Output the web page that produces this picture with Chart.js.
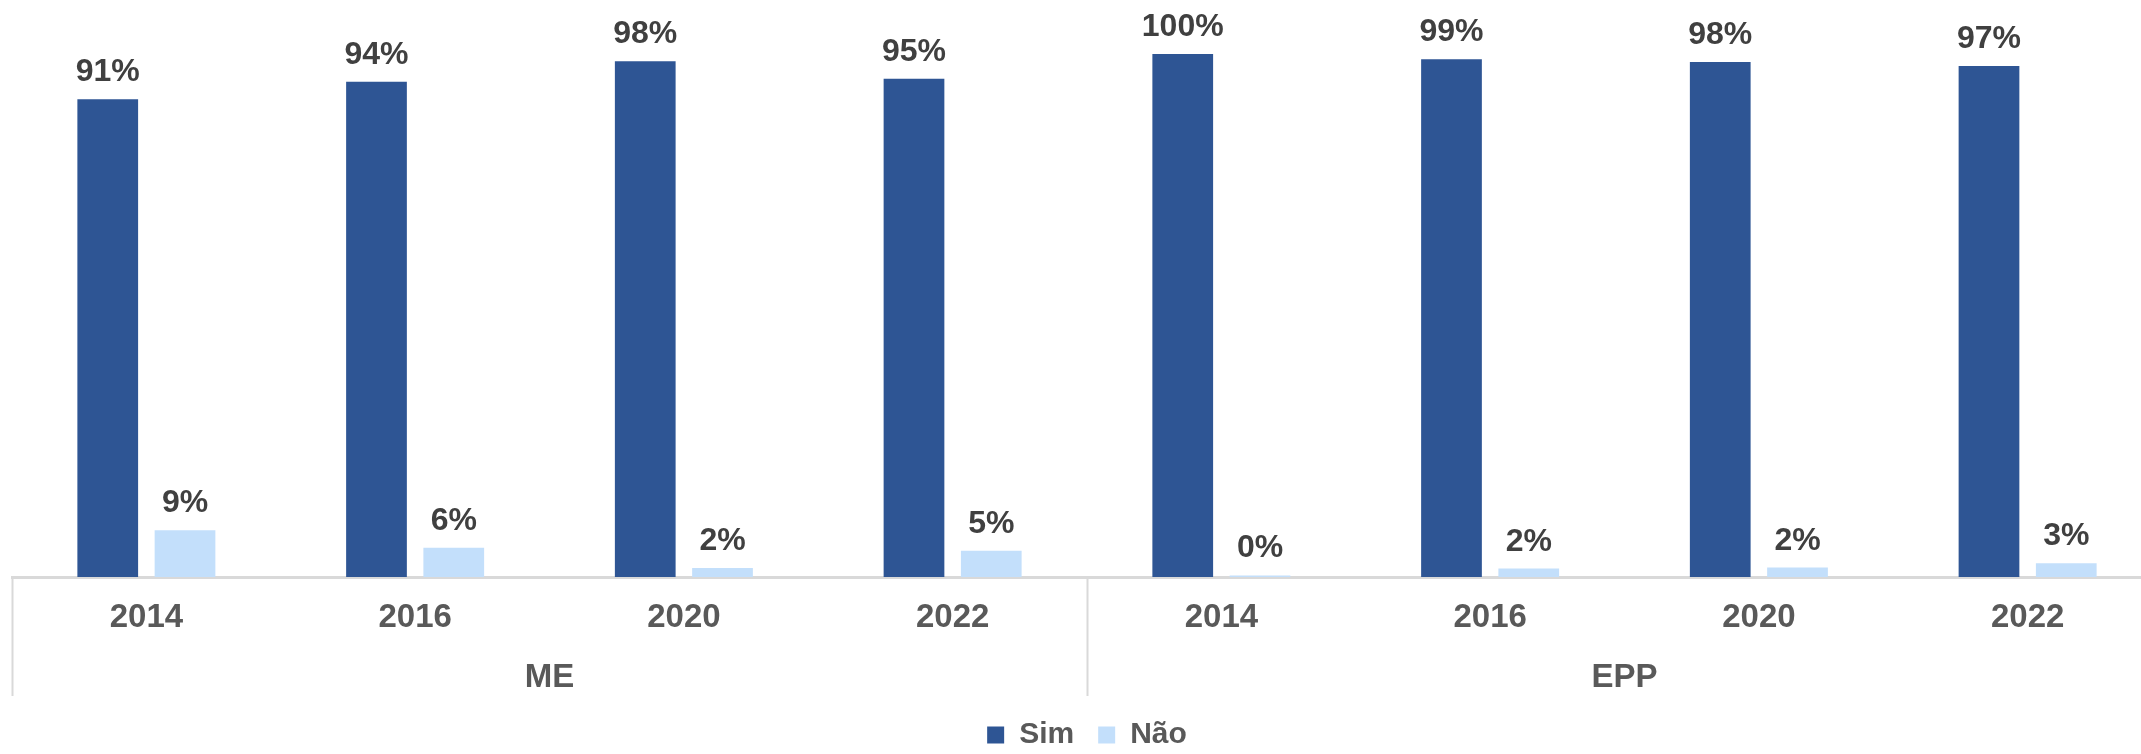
<!DOCTYPE html>
<html>
<head>
<meta charset="utf-8">
<script src="https://cdn.jsdelivr.net/npm/chart.js@4/dist/chart.umd.min.js"></script>
<style>
    html, body { margin: 0; padding: 0; background: #fff; overflow: hidden; }
    #wrap { width: 2174px; height: 760px; }
</style>
</head>
<body>
<div id="wrap"><canvas id="grafico" width="2174" height="760"></canvas></div>
<script>
/* ============================================================
   DATOS
============================================================ */
const anos = ["2014", "2016", "2020", "2022", "2014", "2016", "2020", "2022"];
const grupos = ["ME", "EPP"];
const valoresSim = [91.1, 94.4, 98.3, 95.0, 99.7, 98.7, 98.2, 97.4];
const valoresNao = [8.9, 5.6, 1.7, 5.0, 0.3, 1.6, 1.8, 2.6];

const FUENTE = "'Liberation Sans', Arial, sans-serif";

/* ============================================================
   PLUGIN: etiquetas encima de las barras
============================================================ */
const etiquetasBarras = {
    id: "etiquetasBarras",
    afterDatasetsDraw(chart) {
        const ctx = chart.ctx;
        ctx.save();
        ctx.font = "bold 32px " + FUENTE;
        ctx.fillStyle = "#404040";
        ctx.textAlign = "center";
        ctx.textBaseline = "alphabetic";
        chart.data.datasets.forEach((ds, i) => {
            const meta = chart.getDatasetMeta(i);
            meta.data.forEach((bar, j) => {
                ctx.fillText(Math.round(ds.data[j]) + "%", bar.x, bar.y - 18);
            });
        });
        ctx.restore();
    }
};

/* ============================================================
   PLUGIN: separadores de grupo (ME / EPP)
============================================================ */
const separadores = {
    id: "separadores",
    afterDraw(chart) {
        const x = chart.scales.x;
        const x2 = chart.scales.x2;
        const ctx = chart.ctx;
        ctx.save();
        ctx.strokeStyle = "#d9d9d9";
        ctx.lineWidth = 2;
        [-0.5, 3.5, 7.5].forEach(v => {
            const px = Math.round(x.getPixelForValue(v)) + 0.5;
            ctx.beginPath();
            ctx.moveTo(px, chart.chartArea.bottom);
            ctx.lineTo(px, x2.bottom);
            ctx.stroke();
        });
        ctx.restore();
    }
};

/* ============================================================
   GRÁFICO
============================================================ */
new Chart(document.getElementById("grafico"), {
    type: "bar",
    data: {
        labels: anos,
        datasets: [{
            label: "Sim",
            data: valoresSim,
            backgroundColor: "#2e5594",
            categoryPercentage: 0.575,
            barPercentage: 0.786
        }, {
            label: "Não",
            data: valoresNao,
            backgroundColor: "#c3dffb",
            categoryPercentage: 0.575,
            barPercentage: 0.786
        }]
    },
    options: {
        responsive: false,
        animation: false,
        layout: { padding: { left: 12, right: 12, top: 0, bottom: 0 } },
        plugins: {
            tooltip: { enabled: false },
            legend: {
                position: "bottom",
                labels: {
                    boxWidth: 17,
                    boxHeight: 17,
                    padding: 24,
                    color: "#595959",
                    font: { family: FUENTE, size: 30, weight: "bold" }
                }
            }
        },
        scales: {
            y: { display: false, min: 0, max: 110 },
            x: {
                grid: { display: false, drawTicks: false },
                border: { display: true, color: "#d9d9d9", width: 3 },
                ticks: {
                    color: "#595959",
                    padding: 21,
                    maxRotation: 0,
                    autoSkip: false,
                    font: { family: FUENTE, size: 33, weight: "bold" }
                },
                afterFit: (s) => { s.height = 60; }
            },
            x2: {
                type: "category",
                position: "bottom",
                labels: grupos,
                offset: true,
                grid: { display: false, drawTicks: false },
                border: { display: false },
                ticks: {
                    color: "#595959",
                    padding: 21,
                    maxRotation: 0,
                    font: { family: FUENTE, size: 33, weight: "bold" }
                },
                afterFit: (s) => { s.height = 59; }
            }
        }
    },
    plugins: [etiquetasBarras, separadores]
});
</script>
</body>
</html>
